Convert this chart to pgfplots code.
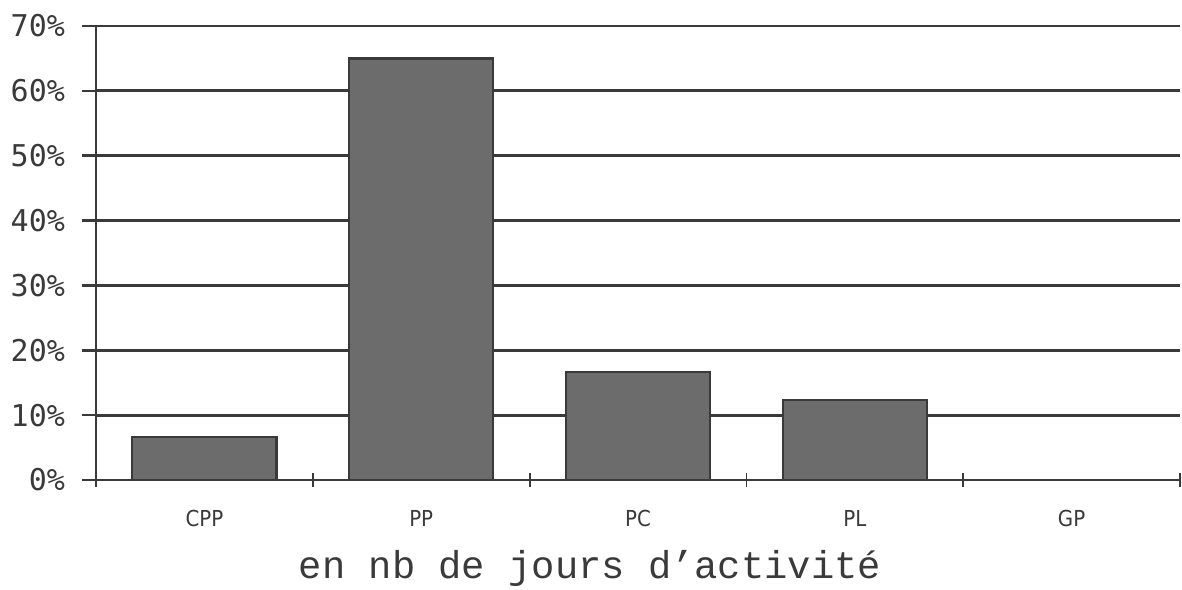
\documentclass[border=0pt]{standalone}
\usepackage{fontspec}
\setmainfont{Liberation Mono}
\newfontfamily\catfont{DejaVu Sans Condensed}
\newfontfamily\tickfont{DejaVu Sans Mono}
\usepackage{pgfplots}
\pgfplotsset{compat=1.18}
\definecolor{ink}{HTML}{3A3A3A}
\definecolor{barfill}{HTML}{6C6C6C}
\begin{document}
\begin{tikzpicture}
\begin{axis}[
  scale only axis,
  width=542pt, height=227pt,
  xmin=-0.5, xmax=4.5,
  ymin=0, ymax=70,
  axis x line=bottom, axis y line=left,
  axis line style={-, ink, line width=1.3pt},
  xtick={-0.5,0.5,1.5,2.5,3.5,4.5},
  x tick label as interval,
  xticklabels={CPP,PP,PC,PL,GP},
  x tick label style={font=\fontsize{11}{11}\selectfont\catfont, text=ink, yshift=-8pt},
  major x tick style={ink, line width=0.9pt},
  xtick align=center,
  ytick={0,10,...,70},
  yticklabel={\pgfmathprintnumber{\tick}\%},
  y tick label style={font=\fontsize{15}{15}\selectfont\tickfont, text=ink, xshift=-5pt},
  /pgf/number format/assume math mode=true,
  ytick align=outside,
  major y tick style={ink, line width=1.3pt},
  major tick length=7pt,
  ymajorgrids,
  grid style={ink, line width=1.4pt},
  xlabel={en nb de jours d'activité},
  xlabel style={font=\fontsize{19.4}{20}\selectfont, text=ink, yshift=-5pt, xshift=-24pt},
  clip=false,
]
\addplot[ybar, bar width=0.665, fill=barfill, draw=ink, line width=1.1pt]
  coordinates {(0,6.6) (1,65.0) (2,16.7) (3,12.3) (4,0)};
\end{axis}
\pgfresetboundingbox
\path ([shift={(-48pt,-54.5pt)}]current axis.south west) rectangle ([shift={(1pt,13pt)}]current axis.north east);
\end{tikzpicture}
\end{document}
